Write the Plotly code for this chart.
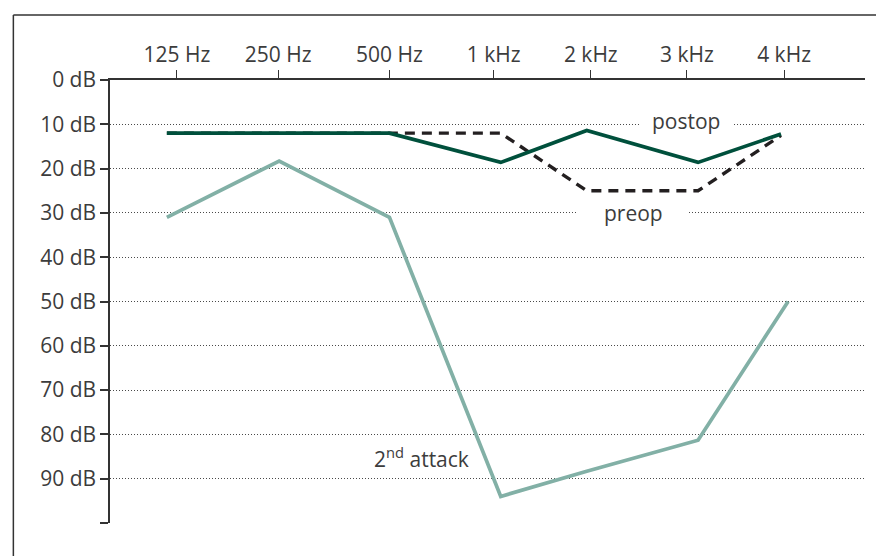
import plotly.graph_objects as go

# ---- data ----
freq_labels = ["125 Hz", "250 Hz", "500 Hz", "1 kHz", "2 kHz", "3 kHz", "4 kHz"]
tick_pos = [0, 1, 2.1, 3.13, 4.09, 5.04, 6.0]          # tick positions along the frequency axis
point_pos = [-0.1, 1.01, 2.1, 3.2, 4.05, 5.15, 5.97]   # where the measured points sit
postop = [12, 12, 12, 18.6, 11.4, 18.6, 12.2]
preop = [12, 12, 12, 12, 25, 25, 12.5]
attack2 = [31, 18.3, 31, 94, 88.3, 81.3, 50]
attack_pos = [-0.1, 1.01, 2.1, 3.2, 4.05, 5.15, 6.04]
db_ticks = [0, 10, 20, 30, 40, 50, 60, 70, 80, 90, 100]
db_labels = ["0 dB", "10 dB", "20 dB", "30 dB", "40 dB", "50 dB", "60 dB",
             "70 dB", "80 dB", "90 dB", " "]

FONT = "Open Sans"
TXT = "#3c3c3c"
FS = 21

fig = go.Figure()
fig.add_trace(go.Scatter(x=attack_pos, y=attack2, mode="lines",
                         line=dict(color="#82b0a6", width=3.7), hoverinfo="skip"))
fig.add_trace(go.Scatter(x=point_pos, y=preop, mode="lines",
                         line=dict(color="#231f20", width=3.4, dash="10px,7px"), hoverinfo="skip"))
fig.add_trace(go.Scatter(x=point_pos, y=postop, mode="lines",
                         line=dict(color="#00503c", width=3.7), hoverinfo="skip"))

# white gaps in the grid behind the series labels
fig.add_shape(type="rect", x0=4.58, x1=5.50, y0=8, y1=12, layer="between",
              fillcolor="white", line=dict(width=0))
fig.add_shape(type="rect", x0=3.96, x1=5.05, y0=28, y1=32, layer="between",
              fillcolor="white", line=dict(width=0))

# series labels
fig.add_annotation(x=5.03, y=10, text="postop", showarrow=False,
                   font=dict(family=FONT, size=FS, color=TXT), yshift=3)
fig.add_annotation(x=4.51, y=30, text="preop", showarrow=False,
                   font=dict(family=FONT, size=FS, color=TXT), yshift=0)
fig.add_annotation(x=2.42, y=85.3, text="2<sup>nd</sup> attack", showarrow=False,
                   font=dict(family=FONT, size=FS, color=TXT))

# outer frame (top and left edges)
fig.add_shape(type="line", xref="paper", yref="paper", x0=-0.128, x1=1.05, y0=1.147, y1=1.147,
              line=dict(color="#333333", width=1.5))
fig.add_shape(type="line", xref="paper", yref="paper", x0=-0.128, x1=-0.128, y0=-0.2, y1=1.147,
              line=dict(color="#333333", width=1.5))

fig.update_layout(
    width=876, height=548,
    margin=dict(l=102, r=19, t=72, b=33),
    paper_bgcolor="white", plot_bgcolor="white",
    showlegend=False,
    font=dict(family=FONT, size=FS, color=TXT),
    xaxis=dict(side="top", range=[-0.662, 6.80], tickvals=tick_pos, ticktext=freq_labels,
               showgrid=False, zeroline=False, showline=True, linecolor="#333333", linewidth=1.5,
               ticks="outside", ticklen=8, tickwidth=1.2, tickcolor="#333333",
               tickfont=dict(family=FONT, size=FS, color=TXT)),
    yaxis=dict(range=[100, 0], tickvals=db_ticks, ticktext=db_labels,
               showgrid=True, gridcolor="#4a4a4a", gridwidth=1, griddash="1px,2px",
               zeroline=False, showline=True, linecolor="#333333", linewidth=1.5,
               ticks="outside", ticklen=8, tickwidth=1.5, tickcolor="#333333",
               tickfont=dict(family=FONT, size=FS, color=TXT)),
)

fig.write_html("out.html")
